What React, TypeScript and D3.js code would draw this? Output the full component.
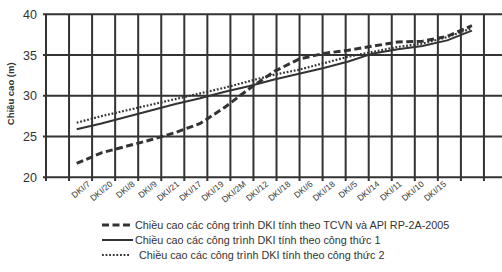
import React from "react";
import * as d3 from "d3";

// categories on the x axis (DKI/18 really appears twice)
const categories = [
  "DKI/7", "DKI/20", "DKI/8", "DKI/9", "DKI/21", "DKI/17", "DKI/19", "DKI/2M",
  "DKI/12", "DKI/18", "DKI/6", "DKI/18", "DKI/5", "DKI/14", "DKI/11", "DKI/10", "DKI/15",
];

// heights (m)
const tcvnApi = [21.7, 23.0, 23.8, 24.6, 25.5, 26.6, 28.6, 30.9, 33.0, 34.5, 35.2, 35.6, 36.1, 36.6, 36.7, 37.3, 38.6];
const formula1 = [25.9, 26.6, 27.4, 28.2, 29.0, 29.7, 30.5, 31.2, 32.0, 32.7, 33.4, 34.2, 35.2, 35.7, 36.1, 36.8, 38.0];
const formula2 = [26.7, 27.5, 28.2, 28.9, 29.6, 30.3, 31.0, 31.8, 32.6, 33.2, 34.0, 34.8, 35.4, 36.0, 36.4, 37.2, 38.3];

const yTicks = [20, 25, 30, 35, 40];
const legendLabels = [
  "Chiều cao các công trình DKI tính theo TCVN và API RP-2A-2005",
  "Chiều cao các công trình DKI tính theo công thức 1",
  "Chiều cao các công trình DKI tính theo công thức 2",
];

const width = 502;
const height = 272;
const ink = "#333333";
const font = "'Liberation Sans', Arial, sans-serif";

const App = () => {
  const left = 46;
  const top = 14.3;
  const bottom = 177.3;
  const cell = 23.05;

  const y = d3.scaleLinear().domain([20, 40]).range([bottom, top]);
  // grid columns, independent of the categories in the source picture
  const gx = d3.scaleLinear().domain([0, 20]).range([left, left + cell * 20]);
  const cols = d3.range(0, 21);
  const idx = categories.map((_, i) => i);
  const xData = d3.scalePoint<number>().domain(idx).range([76.7, 471.9]);
  const xLabel = d3.scalePoint<number>().domain(idx).range([87, 443]);

  const line = (vals: number[]) =>
    d3
      .line<number>()
      .x((_, i) => xData(i) as number)
      .y((d) => y(d))(vals) as string;

  const gridPath =
    yTicks.map((t) => `M43,${y(t)}H512`).join("") +
    cols.map((k) => `M${gx(k)},14.3V181`).join("");

  const series = [
    { vals: tcvnApi, w: 3, dash: "7 3.5" },
    { vals: formula1, w: 2, dash: "" },
    { vals: formula2, w: 2.2, dash: "1.8 1.8" },
  ];

  return (
    <svg width={width} height={height} style={{ position: "absolute", left: 0, top: 0 }}>
      <rect width={width} height={height} fill="#fff" />
      <path d={gridPath} fill="none" stroke="#333333" strokeWidth={2} />
      {yTicks.map((t) => (
        <text key={"t" + t} x={37} y={y(t)} dy="0.36em" textAnchor="end" fontFamily={font} fontSize={12.5} fill="#333">
          {t}
        </text>
      ))}
      <text
        transform={`translate(14,${(top + bottom) / 2 - 2}) rotate(-90)`}
        textAnchor="middle"
        fontFamily={font}
        fontSize={9.5}
        fontWeight="bold"
        fill="#333"
      >
        Chiều cao (m)
      </text>

      {categories.map((c, i) => (
        <text
          key={"c" + i}
          transform={`translate(${xLabel(i)},${bottom + 3}) rotate(-40)`}
          textAnchor="end"
          dy="0.7em"
          fontFamily={font}
          fontSize={8.5}
          fill="#333"
        >
          {c}
        </text>
      ))}

      {series.map((s, i) => (
        <path
          key={"s" + i}
          d={line(s.vals)}
          fill="none"
          stroke={ink}
          strokeWidth={s.w}
          strokeDasharray={s.dash || undefined}
        />
      ))}

      {legendLabels.map((l, i) => {
        const ly = 225 + i * 15;
        const s = series[i];
        return (
          <g key={"l" + i}>
            <line
              x1={102}
              x2={i === 2 ? 130 : 133}
              y1={ly}
              y2={ly}
              stroke={ink}
              strokeWidth={s.w}
              strokeDasharray={s.dash || undefined}
            />
            <text x={i === 2 ? 139 : 135} y={ly} dy="0.35em" fontFamily={font} fontSize={10.8} fill="#333">
              {l}
            </text>
          </g>
        );
      })}
    </svg>
  );
};

export default App;
